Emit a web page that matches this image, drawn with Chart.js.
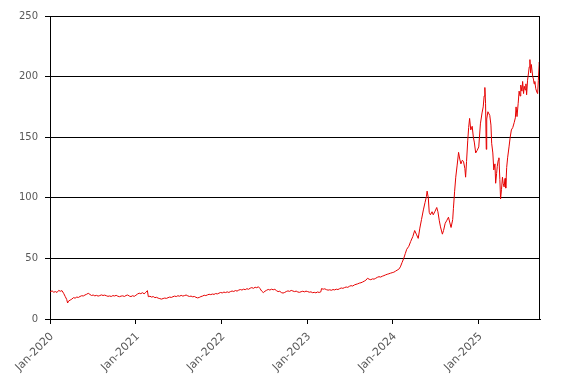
<!DOCTYPE html>
<html>
<head>
<meta charset="utf-8">
<script src="https://cdn.jsdelivr.net/npm/chart.js@4"></script>
<style>
  html, body { margin: 0; padding: 0; background: #fff; }
  #wrap { width: 567px; height: 383px; }
</style>
</head>
<body>
<div id="wrap"><canvas id="chart"></canvas></div>
<script>
// dates and closing prices
const dates = [
  "2020-01-02","2020-01-10","2020-01-17","2020-01-24","2020-01-31","2020-02-07","2020-02-14","2020-02-21","2020-02-28",
  "2020-03-06","2020-03-12","2020-03-16","2020-03-20","2020-03-27","2020-04-03","2020-04-10","2020-04-17","2020-04-24",
  "2020-05-01","2020-05-08","2020-05-15","2020-05-22","2020-05-29","2020-06-05","2020-06-12","2020-06-19","2020-06-26",
  "2020-07-03","2020-07-10","2020-07-17","2020-07-24","2020-07-31","2020-08-07","2020-08-14","2020-08-21","2020-08-28",
  "2020-09-04","2020-09-11","2020-09-18","2020-09-25","2020-10-02","2020-10-09","2020-10-16","2020-10-23","2020-10-30",
  "2020-11-06","2020-11-13","2020-11-20","2020-11-27","2020-12-04","2020-12-11","2020-12-18","2020-12-25",
  "2021-01-01","2021-01-08","2021-01-15","2021-01-22","2021-01-29","2021-02-05","2021-02-12","2021-02-19","2021-02-23",
  "2021-03-02","2021-03-09","2021-03-16","2021-03-23","2021-03-30","2021-04-06","2021-04-13","2021-04-20","2021-04-27",
  "2021-05-04","2021-05-11","2021-05-18","2021-05-25","2021-06-01","2021-06-08","2021-06-15","2021-06-22","2021-06-29",
  "2021-07-06","2021-07-13","2021-07-20","2021-07-27","2021-08-03","2021-08-10","2021-08-17","2021-08-24","2021-08-31",
  "2021-09-07","2021-09-14","2021-09-21","2021-09-28","2021-10-05","2021-10-12","2021-10-19","2021-10-26","2021-11-02",
  "2021-11-09","2021-11-16","2021-11-23","2021-11-30","2021-12-07","2021-12-14","2021-12-21","2021-12-28",
  "2022-01-04","2022-01-11","2022-01-18","2022-01-25","2022-02-01","2022-02-08","2022-02-15","2022-02-22","2022-03-01",
  "2022-03-08","2022-03-15","2022-03-22","2022-03-29","2022-04-05","2022-04-12","2022-04-19","2022-04-26","2022-05-03",
  "2022-05-10","2022-05-17","2022-05-24","2022-05-31","2022-06-07","2022-06-14","2022-06-21","2022-06-28","2022-07-05",
  "2022-07-12","2022-07-19","2022-07-26","2022-08-02","2022-08-09","2022-08-16","2022-08-23","2022-08-30","2022-09-06",
  "2022-09-13","2022-09-20","2022-09-27","2022-10-04","2022-10-11","2022-10-18","2022-10-25","2022-11-01","2022-11-08",
  "2022-11-15","2022-11-22","2022-11-29","2022-12-06","2022-12-13","2022-12-20","2022-12-27",
  "2023-01-03","2023-01-10","2023-01-17","2023-01-24","2023-01-31","2023-02-07","2023-02-14","2023-02-21","2023-02-28",
  "2023-03-03","2023-03-10","2023-03-17","2023-03-24","2023-03-31","2023-04-07","2023-04-14","2023-04-21","2023-04-28",
  "2023-05-05","2023-05-12","2023-05-19","2023-05-26","2023-06-02","2023-06-09","2023-06-16","2023-06-23","2023-06-30",
  "2023-07-07","2023-07-14","2023-07-21","2023-07-28","2023-08-04","2023-08-11","2023-08-18","2023-08-25","2023-09-01",
  "2023-09-08","2023-09-15","2023-09-22","2023-09-29","2023-10-06","2023-10-13","2023-10-20","2023-10-27","2023-11-03",
  "2023-11-10","2023-11-17","2023-11-24","2023-12-01","2023-12-08","2023-12-15","2023-12-22","2023-12-29",
  "2024-01-05","2024-01-12","2024-01-19","2024-01-26","2024-02-02","2024-02-09","2024-02-16","2024-02-23","2024-02-29",
  "2024-03-09","2024-03-17","2024-03-26","2024-04-03","2024-04-10","2024-04-18","2024-04-25","2024-05-02","2024-05-10",
  "2024-05-17","2024-05-23","2024-05-26","2024-05-31","2024-06-04","2024-06-09","2024-06-16","2024-06-21","2024-06-29",
  "2024-07-06","2024-07-11","2024-07-17","2024-07-22","2024-07-30","2024-08-04","2024-08-11","2024-08-17","2024-08-25",
  "2024-08-30","2024-09-05","2024-09-12","2024-09-15","2024-09-20","2024-09-25","2024-10-01","2024-10-07","2024-10-12",
  "2024-10-17","2024-10-23","2024-10-28","2024-11-03","2024-11-06","2024-11-10","2024-11-15","2024-11-19","2024-11-23",
  "2024-11-28","2024-12-04","2024-12-09","2024-12-13","2024-12-19","2024-12-25",
  "2025-01-01","2025-01-08","2025-01-15","2025-01-20","2025-01-24","2025-01-27","2025-01-30","2025-02-02","2025-02-04",
  "2025-02-09","2025-02-17","2025-02-22","2025-02-25","2025-03-02","2025-03-06","2025-03-11","2025-03-14","2025-03-18",
  "2025-03-21","2025-03-25","2025-03-28","2025-04-01","2025-04-04","2025-04-08","2025-04-12","2025-04-15","2025-04-19",
  "2025-04-23","2025-04-26","2025-04-30","2025-05-04","2025-05-10","2025-05-15","2025-05-20","2025-05-26","2025-06-01",
  "2025-06-06","2025-06-09","2025-06-13","2025-06-18","2025-06-22","2025-06-26","2025-06-29","2025-07-04","2025-07-07",
  "2025-07-11","2025-07-14","2025-07-18","2025-07-21","2025-07-24","2025-07-28","2025-08-01","2025-08-04","2025-08-07",
  "2025-08-10","2025-08-13","2025-08-19","2025-08-22","2025-08-25","2025-08-28","2025-09-01","2025-09-06","2025-09-09",
  "2025-09-12","2025-09-16","2025-09-19"
];
const prices = [
  22.5,23.2,22.1,22.6,21.9,23.6,22.9,23.4,21.2,
  18.5,16.2,13.2,14.8,15.6,16.4,17.6,17.2,18.1,
  17.8,18.6,19.2,19.0,19.8,20.4,21.2,20.3,19.4,
  19.8,19.1,19.5,18.9,19.3,19.9,19.4,19.7,19.2,
  18.7,19.0,18.6,19.3,19.0,19.5,18.8,18.4,18.9,
  19.1,18.6,19.4,19.8,18.9,18.5,19.2,18.7,
  19.6,20.6,21.3,20.9,21.7,20.8,21.9,23.4,18.4,
  18.8,18.1,18.5,17.6,17.9,17.2,16.8,16.4,16.9,
  17.3,17.0,17.6,18.1,17.8,18.4,18.9,18.5,19.2,
  18.8,19.5,18.9,19.3,19.8,19.1,18.6,18.9,18.3,
  18.6,17.9,17.4,17.8,18.5,18.9,19.6,19.3,19.9,
  20.4,20.1,20.6,20.3,21.0,20.7,21.3,21.9,
  21.5,22.2,21.8,22.4,21.9,22.6,23.1,22.7,23.5,
  23.0,23.8,24.3,23.9,24.6,24.2,25.0,24.5,25.4,
  25.9,25.3,26.2,25.8,26.6,25.1,23.0,21.8,22.9,
  23.7,24.4,23.9,24.6,24.1,24.5,23.4,22.6,22.9,
  21.8,21.4,21.9,22.7,23.2,22.8,23.6,23.1,22.6,
  23.0,22.3,22.0,22.5,22.9,22.4,23.0,
  22.6,22.1,22.4,21.7,22.0,21.6,22.3,21.9,22.4,
  25.1,24.6,24.9,24.2,23.8,24.1,23.7,24.3,24.0,
  24.6,24.3,25.0,25.6,25.3,25.9,26.4,26.1,27.0,
  27.5,27.2,28.1,28.6,29.0,29.6,29.9,30.5,31.2,
  32.0,33.6,32.8,32.4,33.1,32.9,33.6,34.4,34.9,
  34.6,35.3,35.8,36.4,36.9,37.3,37.8,38.2,
  38.6,39.4,40.3,41.0,43.0,46.5,49.8,54.0,57.5,
  60,64,68,73,70,66.5,75,82,90,
  96,101,105.5,100,88,86,88.5,86,89,
  92,88.5,81,76,70,73,79,81,84,
  80,75.5,82,91,105,117,127,137.5,132,
  128,131,130,124,117,130,147,158,165.5,
  156,159,150,146,137,139,
  142,161,170,175,184,191,178,140,165,
  171,168,160,145,137,123,128,112,120,
  126,131,133,115,99,107,117,112,109,
  116,108,125,133,142,150,156,158,162,
  166,175,167,178,188,184,193,188,196,
  186,192,189,194,185,197,203,208,214,
  203,210,200,198,194,196,190,187,186,
  197,212,205
];
const yearTicks = [2020, 2021, 2022, 2023, 2024, 2025];
const yTicks = [0, 50, 100, 150, 200, 250];

const tickColor = "#595959";

const points = dates.map((d, i) => ({ x: Date.parse(d), y: prices[i] }));

// right edge of the plot box
const boxRight = {
  id: "boxRight",
  afterDraw(c) {
    const a = c.chartArea;
    const ctx = c.ctx;
    const x = Math.round(a.right) - 0.5;
    ctx.save();
    ctx.strokeStyle = "#000";
    ctx.lineWidth = 1;
    ctx.beginPath();
    ctx.moveTo(x, a.top);
    ctx.lineTo(x, a.bottom);
    ctx.stroke();
    ctx.restore();
  }
};

new Chart(document.getElementById("chart"), {
  type: "line",
  data: {
    datasets: [{
      data: points,
      borderColor: "#e60000",
      borderWidth: 1,
      pointRadius: 0,
      tension: 0,
      fill: false
    }]
  },
  options: {
    responsive: true,
    maintainAspectRatio: false,
    animation: false,
    events: [],
    layout: { padding: { top: 16, right: 27, left: 0, bottom: 0 } },
    plugins: { legend: { display: false }, tooltip: { enabled: false } },
    scales: {
      x: {
        type: "linear",
        min: Date.UTC(2020, 0, 1),
        max: Date.parse(dates[dates.length - 1]),
        afterBuildTicks: (scale) => {
          scale.ticks = yearTicks.map(y => ({ value: Date.UTC(y, 0, 1) }));
        },
        afterFit: (scale) => { scale.height = 64; },
        grid: { drawOnChartArea: false, drawTicks: true, tickLength: 5, color: "#000" },
        border: { color: "#000", width: 1 },
        ticks: {
          autoSkip: false,
          maxRotation: 45,
          minRotation: 45,
          padding: 6,
          labelOffset: 2,
          color: tickColor,
          font: { family: "DejaVu Sans", size: 11 },
          callback: (v) => "Jan-" + new Date(v).getUTCFullYear()
        }
      },
      y: {
        min: 0,
        max: 250,
        afterBuildTicks: (scale) => {
          scale.ticks = yTicks.map(v => ({ value: v }));
        },
        afterFit: (scale) => { scale.width = 50; },
        grid: { color: "#000", tickLength: 5, drawTicks: true },
        border: { color: "#000", width: 1 },
        ticks: { padding: 7, color: tickColor, font: { family: "DejaVu Sans", size: 10 } }
      }
    }
  },
  plugins: [boxRight]
});
</script>
</body>
</html>
